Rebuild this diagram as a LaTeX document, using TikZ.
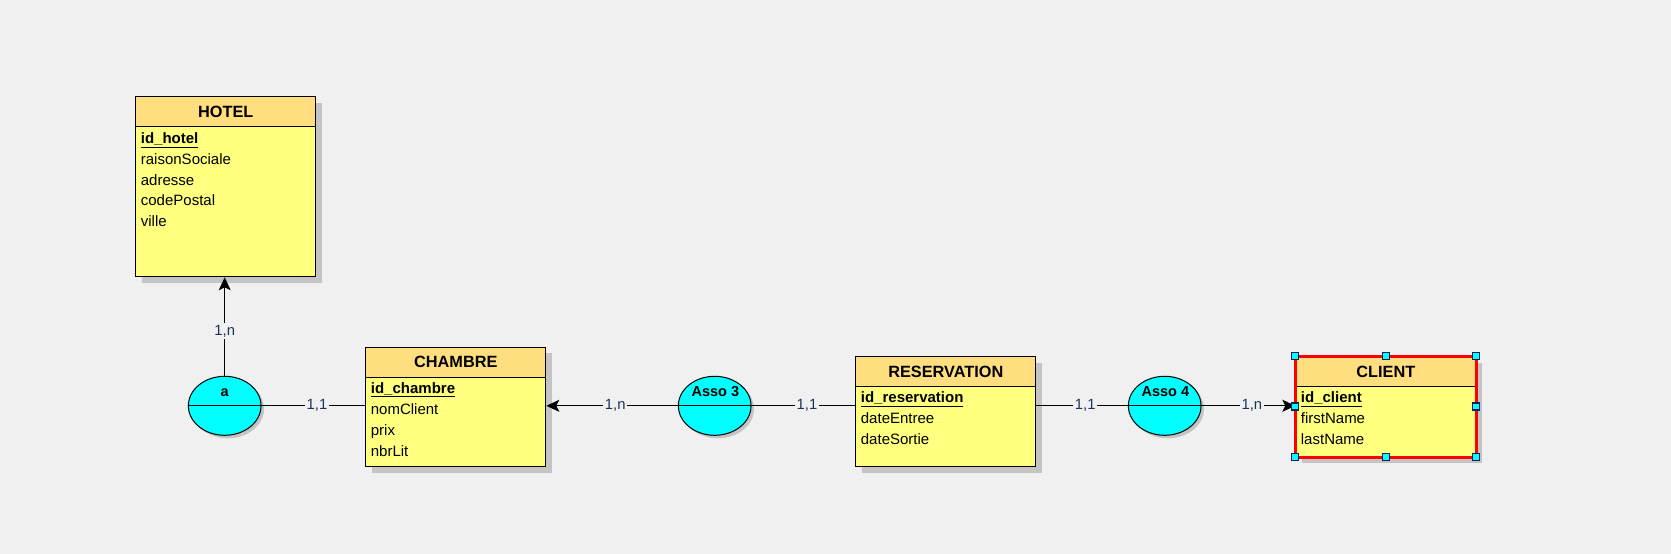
\documentclass[tikz,border=0pt]{standalone}
\usepackage{fontspec}
\setmainfont{Liberation Sans}
\usetikzlibrary{arrows.meta,shapes.geometric,shadows}
\definecolor{bg}{HTML}{F0F0F0}
\definecolor{hdr}{HTML}{FFDE80}
\definecolor{bodyc}{HTML}{FFFF80}
\definecolor{assoc}{HTML}{00FFFF}
\definecolor{shad}{HTML}{C4C4C4}
\definecolor{lbl}{HTML}{1E3258}
\definecolor{hdl}{HTML}{10205A}
\tikzset{
  entity/.style={rectangle, draw=black, line width=1pt, fill=bodyc, minimum width=180pt, inner sep=0pt, anchor=north west,
    drop shadow={shadow xshift=6pt, shadow yshift=-6pt, fill=shad, opacity=1}},
  ehead/.style={rectangle, draw=black, line width=1pt, fill=hdr, minimum width=180pt, minimum height=30pt, inner sep=0pt, anchor=north west,
    font=\fontsize{16.3}{16}\selectfont\bfseries},
  attr/.style={anchor=base west, inner sep=0pt, font=\fontsize{15}{16}\selectfont, text=black},
  assoshape/.style={ellipse, draw=black, line width=1pt, fill=assoc, minimum width=72.7pt, minimum height=59pt, inner sep=0pt,
    drop shadow={shadow xshift=3pt, shadow yshift=-3pt, fill=shad, opacity=1}},
  assotext/.style={inner sep=0pt, font=\fontsize{14.5}{14}\selectfont\bfseries},
  conn/.style={draw=black, line width=1pt},
  arr/.style={-{Stealth[length=13pt,width=12pt,inset=3pt]}},
  card/.style={fill=bg, inner sep=1.5pt, text=lbl, font=\fontsize{14.8}{14.5}\selectfont},
  handle/.style={rectangle, minimum size=7pt, inner sep=0pt, fill=assoc, draw=hdl, line width=1.3pt}
}
\begin{document}
\begin{tikzpicture}[x=1pt,y=-1pt]
\useasboundingbox[fill=bg] (0,0) rectangle (1671,554);

% HOTEL
\node[entity, minimum height=180pt] (hotel) at (135.3,96.3) {};
\node[ehead] (hotelH) at (hotel.north west) {HOTEL};
\node[attr] (hotel1) at (140.7,143.5) {\underline{\textbf{id\_hotel}}};
\node[attr] (hotel2) at (140.7,164.3) {raisonSociale};
\node[attr] (hotel3) at (140.7,185.1) {adresse};
\node[attr] (hotel4) at (140.7,205.9) {codePostal};
\node[attr] (hotel5) at (140.7,226.7) {ville};

% CHAMBRE
\node[entity, minimum height=119.3pt] (chambre) at (365.3,346.7) {};
\node[ehead] (chambreH) at (chambre.north west) {CHAMBRE};
\node[attr] (chambre1) at (370.7,393.3) {\underline{\textbf{id\_chambre}}};
\node[attr] (chambre2) at (370.7,414.3) {nomClient};
\node[attr] (chambre3) at (370.7,435.3) {prix};
\node[attr] (chambre4) at (370.7,456.3) {nbrLit};

% RESERVATION
\node[entity, minimum height=110pt] (reservation) at (855.3,356) {};
\node[ehead] (reservationH) at (reservation.north west) {RESERVATION};
\node[attr] (reservation1) at (860.7,402.7) {\underline{\textbf{id\_reservation}}};
\node[attr] (reservation2) at (860.7,423.7) {dateEntree};
\node[attr] (reservation3) at (860.7,444.7) {dateSortie};

% CLIENT
\node[entity, minimum height=100pt] (client) at (1295.3,356) {};
\node[ehead] (clientH) at (client.north west) {CLIENT};
\node[attr] (client1) at (1300.7,402.7) {\underline{\textbf{id\_client}}};
\node[attr] (client2) at (1300.7,423.7) {firstName};
\node[attr] (client3) at (1300.7,444.7) {lastName};
\draw[red, line width=3pt] (client.north west) rectangle (client.south east);

% associations
\node[assoshape] (a) at (224.7,405.8) {};
\draw[conn] (a.west) -- (a.east);
\node[assotext] (aT) at (224.7,392.5) {a};

\node[assoshape] (asso3) at (714.7,405.8) {};
\draw[conn] (asso3.west) -- (asso3.east);
\node[assotext] (asso3T) at (715.3,392) {Asso 3};

\node[assoshape] (asso4) at (1164.7,405.8) {};
\draw[conn] (asso4.west) -- (asso4.east);
\node[assotext] (asso4T) at (1165.3,392) {Asso 4};

% connectors
\draw[conn, arr] (a.north) -- node[card, pos=0.455] (c1) {1,n} (a.north |- hotel.south);
\draw[conn] (a.east) -- node[card, pos=0.534] (c2) {1,1} (a.east -| chambre.west);
\draw[conn, arr] (asso3.west) -- node[card, pos=0.476] (c3) {1,n} (asso3.west -| chambre.east);
\draw[conn] (asso3.east) -- node[card, pos=0.534] (c4) {1,1} (asso3.east -| reservation.west);
\draw[conn] (asso4.west) -- node[card, pos=0.466] (c5) {1,1} (asso4.west -| reservation.east);
\draw[conn, arr] (asso4.east) -- node[card, pos=0.537] (c6) {1,n} (asso4.east -| client.west);

% selection handles
\foreach \an [count=\i] in {north west, north, north east, east, south east, south, south west, west}
  \node[handle] (hd\i) at (client.\an) {};
\end{tikzpicture}
\end{document}
